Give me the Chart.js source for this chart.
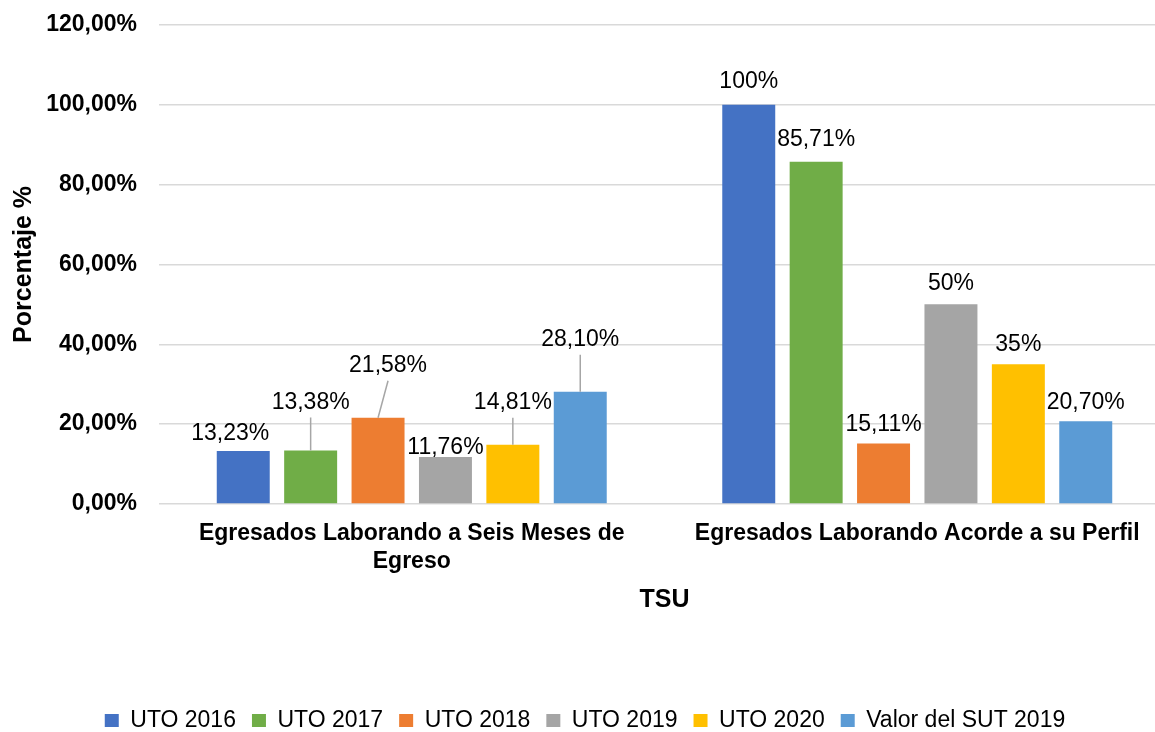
<!DOCTYPE html>
<html>
<head>
<meta charset="utf-8">
<script src="https://cdn.jsdelivr.net/npm/chart.js@4"></script>
<style>
  html, body { margin: 0; padding: 0; background: #fff; overflow: hidden; }
</style>
</head>
<body>
<canvas id="chartcanvas" width="1170" height="732"></canvas>
<script>
const categories = [
  ["Egresados Laborando a Seis Meses de", "Egreso"],
  "Egresados Laborando Acorde a su Perfil",
];
const seriesNames = ["UTO 2016", "UTO 2017", "UTO 2018", "UTO 2019", "UTO 2020", "Valor del SUT 2019"];
const uto2016 = [13.23, 100];
const uto2017 = [13.38, 85.71];
const uto2018 = [21.58, 15.11];
const uto2019 = [11.76, 50];
const uto2020 = [14.81, 35];
const sut2019 = [28.10, 20.70];
const yTicks = [0, 20, 40, 60, 80, 100, 120];

const colors = ["#4472c4", "#70ad47", "#ed7d31", "#a5a5a5", "#ffc000", "#5b9bd5"];

// label placement (px from bar top), and whether a leader line is drawn
const labelDx = [[-13, 0], [0, 0], [10, 0], [0, 0], [0, 0], [0, 0]];
const labelDy = [[-17, -23], [-48, -22], [-52, -19], [-9, -21], [-42, -20], [-52, -19]];
const leader = [[false, false], [true, false], [true, false], [false, false], [true, false], [true, false]];

const FONT = "'Liberation Sans', Arial, sans-serif";
Chart.defaults.font.family = FONT;
Chart.defaults.color = "#000";

const fmtLabel = (v) => Number.isInteger(v) ? `${v}%` : `${v.toFixed(2).replace(".", ",")}%`;

const barLabels = {
  id: "barLabels",
  afterDatasetsDraw(chart) {
    const c = chart.ctx;
    c.save();
    c.font = `23px ${FONT}`;
    c.textAlign = "center";
    c.textBaseline = "middle";
    chart.data.datasets.forEach((ds, i) => {
      chart.getDatasetMeta(i).data.forEach((bar, j) => {
        const x = bar.x + labelDx[i][j];
        const y = bar.y + labelDy[i][j];
        if (leader[i][j]) {
          c.strokeStyle = "#a6a6a6";
          c.lineWidth = 1.5;
          c.beginPath();
          c.moveTo(x, y + 15);
          c.lineTo(bar.x, bar.y);
          c.stroke();
        }
        c.fillStyle = "#000";
        c.fillText(fmtLabel(ds.data[j]), x, y);
      });
    });
    c.restore();
  },
};

const allSeries = [uto2016, uto2017, uto2018, uto2019, uto2020, sut2019];

const config = {
  type: "bar",
  data: {
    labels: categories,
    datasets: allSeries.map((d, i) => ({
      label: seriesNames[i],
      data: d,
      backgroundColor: colors[i],
      borderWidth: 0,
      categoryPercentage: 0.8,
      barPercentage: 0.786,
    })),
  },
  options: {
    responsive: false,
    animation: false,
    layout: { padding: { top: 25, right: 0, bottom: -10, left: 0 } },
    plugins: {
      tooltip: { enabled: false },
      legend: {
        position: "bottom",
        labels: {
          boxWidth: 14,
          boxHeight: 13,
          padding: 16,
          font: { size: 23 },
          color: "#000",
        },
      },
    },
    scales: {
      x: {
        grid: { display: false },
        border: { display: false },
        ticks: {
          padding: 8,
          maxRotation: 0,
          font: { size: 23, weight: "bold", lineHeight: 1.22 },
          color: "#000",
        },
        title: {
          display: true,
          text: "TSU",
          font: { size: 25, weight: "bold", lineHeight: 1.2 },
          color: "#000",
          padding: { top: 1, bottom: 78 },
        },
      },
      y: {
        min: 0,
        max: 120,
        afterFit(scale) {
          scale.width = 159;
          scale.paddingTop = 0;
        },
        afterBuildTicks(scale) { scale.ticks = yTicks.map((v) => ({ value: v })); },
        grid: { color: "#d9d9d9", lineWidth: 1.5, drawTicks: false },
        border: { display: false },
        ticks: {
          padding: 22,
          font: { size: 23, weight: "bold" },
          color: "#000",
          callback: (v) => `${v.toFixed(2).replace(".", ",")}%`,
        },
        title: {
          display: true,
          text: "Porcentaje %",
          font: { size: 25, weight: "bold", lineHeight: 1.2 },
          color: "#000",
          padding: { top: 9, bottom: 0 },
        },
      },
    },
  },
  plugins: [barLabels],
};

const chart = new Chart(document.getElementById("chartcanvas"), config);
</script>
</body>
</html>
